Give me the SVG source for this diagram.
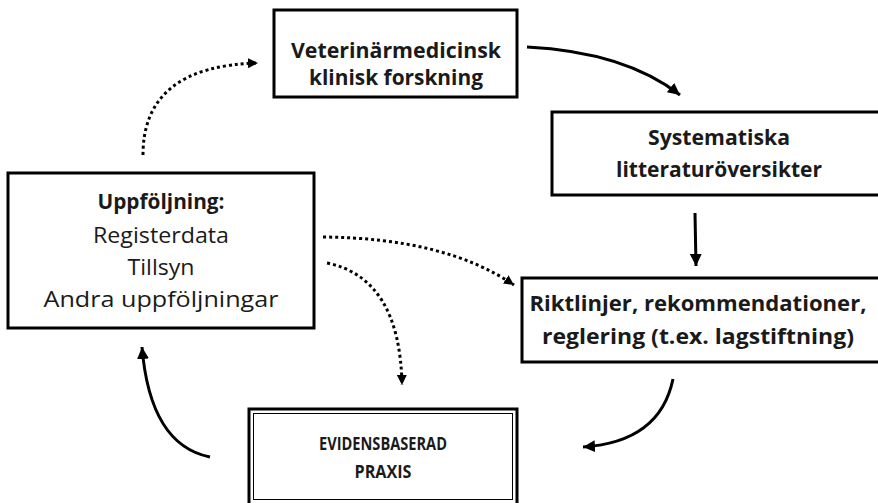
<svg xmlns="http://www.w3.org/2000/svg" width="878" height="503" viewBox="0 0 878 503">
<defs>
<marker id="ah" markerUnits="userSpaceOnUse" markerWidth="14" markerHeight="14" refX="12" refY="6" orient="auto">
<path d="M0,0 L12,6 L0,12 Z" fill="#000"/>
</marker>
<marker id="ahs" markerUnits="userSpaceOnUse" markerWidth="12" markerHeight="12" refX="10" refY="5" orient="auto">
<path d="M0,0 L10,5 L0,10 Z" fill="#000"/>
</marker>
<style>
.box{fill:#fff;stroke:#000;stroke-width:3}
.t{font-family:"Open Sans","Noto Sans","Liberation Sans",sans-serif;fill:#1a1a1a;text-anchor:middle}
.b{font-weight:bold}
.c{fill:none;stroke:#000;stroke-width:3}
.d{fill:none;stroke:#000;stroke-width:3;stroke-dasharray:3 3}
</style>
</defs>
<rect width="878" height="503" fill="#fff"/>
<g id="connectors">
<path class="c" d="M527,47 Q625,52 680,95" marker-end="url(#ah)"/>
<path class="c" d="M695,213 L696,266" marker-end="url(#ah)"/>
<path class="c" d="M673,379 Q660,442 583,447" marker-end="url(#ah)"/>
<path class="c" d="M210,457 Q150,445 142,347" marker-end="url(#ah)"/>
<path class="d" d="M143,155 Q143,66 258,63" marker-end="url(#ahs)"/>
<path class="d" d="M323,237 Q445,238 514,285" marker-end="url(#ahs)"/>
<path class="d" d="M327,263 Q400,278 402,385" marker-end="url(#ahs)"/>
</g>
<g id="n-forskning">
<rect class="box" x="274" y="10" width="243" height="87"/>
<text class="t b" font-size="21" x="396" y="58" textLength="210" lengthAdjust="spacingAndGlyphs">Veterinärmedicinsk</text>
<text class="t b" font-size="21" x="396" y="85" textLength="174" lengthAdjust="spacingAndGlyphs">klinisk forskning</text>
</g>
<g id="n-systematiska">
<rect class="box" x="552" y="112" width="340" height="83"/>
<text class="t b" font-size="21" x="719" y="145" textLength="142" lengthAdjust="spacingAndGlyphs">Systematiska</text>
<text class="t b" font-size="21" x="719" y="177" textLength="206" lengthAdjust="spacingAndGlyphs">litteraturöversikter</text>
</g>
<g id="n-riktlinjer">
<rect class="box" x="522" y="278" width="370" height="84"/>
<text class="t b" font-size="21" x="698" y="311" textLength="337" lengthAdjust="spacingAndGlyphs">Riktlinjer, rekommendationer,</text>
<text class="t b" font-size="21" x="698" y="344" textLength="312" lengthAdjust="spacingAndGlyphs">reglering (t.ex. lagstiftning)</text>
</g>
<g id="n-uppfoljning">
<rect class="box" x="8" y="173" width="306" height="155"/>
<text class="t b" font-size="21" x="161" y="209" textLength="127" lengthAdjust="spacingAndGlyphs">Uppföljning:</text>
<text class="t" font-size="21" x="161" y="243" textLength="136" lengthAdjust="spacingAndGlyphs">Registerdata</text>
<text class="t" font-size="21" x="161" y="275" textLength="67" lengthAdjust="spacingAndGlyphs">Tillsyn</text>
<text class="t" font-size="21" x="161" y="307" textLength="235" lengthAdjust="spacingAndGlyphs">Andra uppföljningar</text>
</g>
<g id="n-evidens">
<rect class="box" x="249" y="409" width="268" height="100"/>
<rect x="253.5" y="413.5" width="259" height="86" fill="none" stroke="#000" stroke-width="1"/>
<text class="t b" font-size="17" x="383" y="450" textLength="128" lengthAdjust="spacingAndGlyphs">EVIDENSBASERAD</text>
<text class="t b" font-size="17" x="383" y="478" textLength="57" lengthAdjust="spacingAndGlyphs">PRAXIS</text>
</g>
</svg>
